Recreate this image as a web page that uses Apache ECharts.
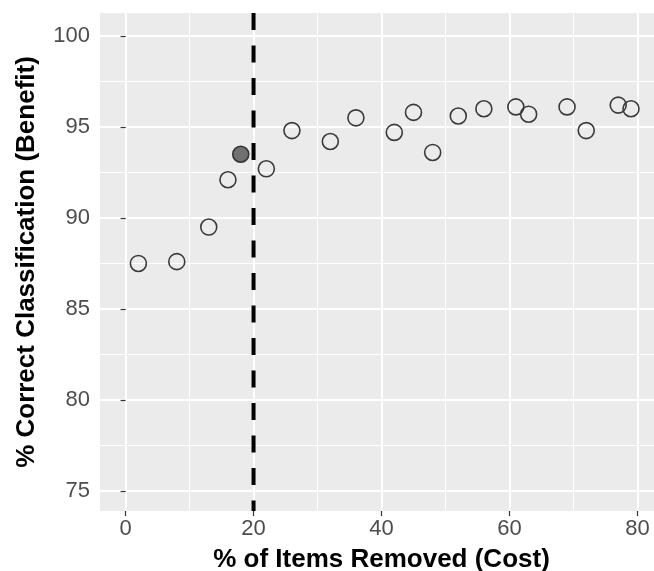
<!DOCTYPE html>
<html>
<head>
<meta charset="utf-8">
<script src="https://cdn.jsdelivr.net/npm/echarts@6/dist/echarts.min.js"></script>
<style>
  html, body { margin: 0; padding: 0; background: #ffffff; }
  #chart { width: 654px; height: 571px; }
</style>
</head>
<body>
<div id="chart"></div>
<script>
// Percentage of items removed (cost) and resulting classification accuracy (benefit)
const costPct = [2, 8, 13, 16, 18, 22, 26, 32, 36, 42, 45, 48, 52, 56, 61, 63, 69, 72, 77, 79];
const benefitPct = [87.5, 87.6, 89.5, 92.1, 93.5, 92.7, 94.8, 94.2, 95.5, 94.7, 95.8, 93.6, 95.6, 96.0, 96.1, 95.7, 96.1, 94.8, 96.2, 96.0];
// Chosen solution (highlighted point) and the cost cut-off line
const chosenCost = 18;
const cutoffCost = 20;

// Axis ranges and breaks
const xRange = [-4, 84];
const yRange = [73.9, 101.26];
const xMajor = [0, 20, 40, 60, 80];
const xMinor = [10, 30, 50, 70];
const yMajor = [75, 80, 85, 90, 95, 100];
const yMinor = [77.5, 82.5, 87.5, 92.5, 97.5];

const openPts = [];
const chosenPts = [];
costPct.forEach((c, i) => {
  (c === chosenCost ? chosenPts : openPts).push([c, benefitPct[i]]);
});

const FONT = '"Liberation Sans", Arial, sans-serif';

const chart = echarts.init(document.getElementById('chart'), null, { renderer: 'canvas' });

const majorAxisCommon = {
  axisLine: { show: false },
  axisTick: { show: true, length: 5, lineStyle: { color: '#333333', width: 1.2 } },
  splitLine: { show: true, lineStyle: { color: '#ffffff', width: 2 } },
  axisLabel: { color: '#4D4D4D', fontSize: 22, fontFamily: FONT }
};
const minorAxisCommon = {
  axisLine: { show: false },
  axisLabel: { show: false },
  splitLine: { show: true, lineStyle: { color: '#ffffff', width: 1 } }
};

chart.setOption({
  animation: false,
  backgroundColor: '#ffffff',
  grid: {
    left: 100, top: 13, width: 563, height: 498,
    outerBoundsMode: 'none',
    containLabel: false,
    show: true, backgroundColor: '#EBEBEB', borderWidth: 0
  },
  xAxis: [
    Object.assign({}, majorAxisCommon, {
      type: 'value', min: xRange[0], max: xRange[1],
      axisTick: Object.assign({}, majorAxisCommon.axisTick, { customValues: xMajor }),
      axisLabel: Object.assign({}, majorAxisCommon.axisLabel, { customValues: xMajor, margin: 7 }),
      name: '% of Items Removed (Cost)',
      nameLocation: 'middle',
      nameGap: 36,
      nameTextStyle: { color: '#000000', fontSize: 26, fontWeight: 'bold', fontFamily: FONT }
    }),
    Object.assign({}, minorAxisCommon, {
      type: 'value', min: xRange[0], max: xRange[1], position: 'bottom',
      axisTick: { show: false, customValues: xMinor }
    })
  ],
  yAxis: [
    Object.assign({}, majorAxisCommon, {
      type: 'value', min: yRange[0], max: yRange[1],
      axisTick: Object.assign({}, majorAxisCommon.axisTick, { customValues: yMajor }),
      axisLabel: Object.assign({}, majorAxisCommon.axisLabel, { customValues: yMajor, margin: 10 }),
      name: '% Correct Classification (Benefit)',
      nameLocation: 'middle',
      nameGap: 60,
      nameTextStyle: { color: '#000000', fontSize: 26, fontWeight: 'bold', fontFamily: FONT }
    }),
    Object.assign({}, minorAxisCommon, {
      type: 'value', min: yRange[0], max: yRange[1], position: 'left',
      axisTick: { show: false, customValues: yMinor }
    })
  ],
  series: [
    {
      type: 'line',
      xAxisIndex: 0, yAxisIndex: 0,
      data: [[cutoffCost, yRange[1]], [cutoffCost, yRange[0]]],
      symbol: 'none',
      lineStyle: { color: '#000000', width: 4, type: [17, 15.5], cap: 'butt' },
      z: 3
    },
    {
      type: 'scatter',
      xAxisIndex: 0, yAxisIndex: 0,
      data: openPts,
      symbol: 'circle',
      symbolSize: 16,
      itemStyle: { color: 'rgba(0,0,0,0)', borderColor: '#3A3A3A', borderWidth: 1.6, opacity: 1 },
      z: 4
    },
    {
      type: 'scatter',
      xAxisIndex: 0, yAxisIndex: 0,
      data: chosenPts,
      symbol: 'circle',
      symbolSize: 16,
      itemStyle: { color: '#707070', borderColor: '#333333', borderWidth: 1.6, opacity: 1 },
      z: 4
    }
  ]
});
</script>
</body>
</html>
